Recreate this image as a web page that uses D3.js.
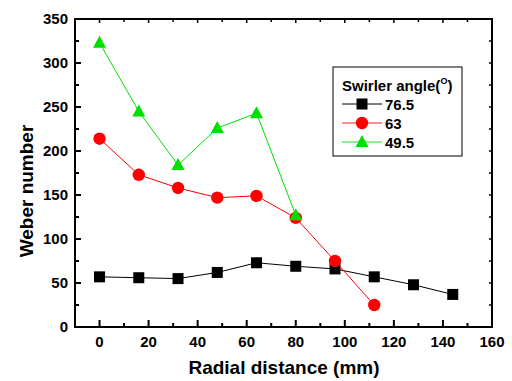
<!DOCTYPE html>
<html><head><meta charset="utf-8">
<script src="https://cdn.jsdelivr.net/npm/d3@7"></script>
<style>body{margin:0;background:#fff}svg{display:block}text{font-family:Arial,"Liberation Sans",sans-serif;font-weight:bold}</style>
</head><body>
<svg id="c" width="512" height="381"></svg>
<script>
const xPositions = [0,16,32,48,64,80,96,112,128,144];
const seriesNames = ["76.5","63","49.5"];
const we765 = [57,56,55,62,73,69,66,57,48,37];
const we63 = [214,173,158,147,149,124,75,25];
const we495 = [323,245,184,226,243,127];
const xTicks = [0,20,40,60,80,100,120,140,160];
const yTicks = [0,50,100,150,200,250,300,350];
const colors = ["#000000","#ff0000","#00e000"];
const shapes = ["square","circle","triangle"];

const svg = d3.select("#c");
const L=75,R=492,T=19,B=327;
const x = d3.scaleLinear().domain([-10,160]).range([L,R]);
const y = d3.scaleLinear().domain([0,350]).range([B,T]);

const g = svg.append("g");
g.append("rect").attr("x",L).attr("y",T).attr("width",R-L).attr("height",B-T).attr("fill","none").attr("stroke","#000").attr("stroke-width",2);

const xMinor = d3.range(-10,161,10).filter(v=>v%20!==0);
const yMinor = d3.range(25,350,50);
xTicks.forEach(v=>{
  g.append("line").attr("x1",x(v)).attr("x2",x(v)).attr("y1",B).attr("y2",B-7).attr("stroke","#000").attr("stroke-width",2);
  g.append("line").attr("x1",x(v)).attr("x2",x(v)).attr("y1",T).attr("y2",T+4).attr("stroke","#000").attr("stroke-width",1.5);
  g.append("text").attr("x",x(v)).attr("y",347).attr("text-anchor","middle").attr("font-size",15).text(v);
});
xMinor.forEach(v=>{
  g.append("line").attr("x1",x(v)).attr("x2",x(v)).attr("y1",B).attr("y2",B-4).attr("stroke","#000").attr("stroke-width",2);
  g.append("line").attr("x1",x(v)).attr("x2",x(v)).attr("y1",T).attr("y2",T+3).attr("stroke","#000").attr("stroke-width",1.5);
});
yTicks.forEach(v=>{
  g.append("line").attr("x1",L).attr("x2",L+6).attr("y1",y(v)).attr("y2",y(v)).attr("stroke","#000").attr("stroke-width",2);
  g.append("line").attr("x1",R).attr("x2",R-3).attr("y1",y(v)).attr("y2",y(v)).attr("stroke","#000").attr("stroke-width",1.5);
  g.append("text").attr("x",L-7).attr("y",y(v)+5.4).attr("text-anchor","end").attr("font-size",15).text(v);
});
yMinor.forEach(v=>{
  g.append("line").attr("x1",L).attr("x2",L+4).attr("y1",y(v)).attr("y2",y(v)).attr("stroke","#000").attr("stroke-width",2);
  g.append("line").attr("x1",R).attr("x2",R-3).attr("y1",y(v)).attr("y2",y(v)).attr("stroke","#000").attr("stroke-width",1.5);
});

svg.append("text").attr("x",284).attr("y",374).attr("text-anchor","middle").attr("font-size",19).text("Radial distance (mm)");
svg.append("text").attr("transform",`translate(33,191) rotate(-90)`).attr("text-anchor","middle").attr("font-size",19).text("Weber number");

function marker(sel, shape, color){
  if(shape==="square") sel.append("rect").attr("x",-5.5).attr("y",-5.5).attr("width",11).attr("height",11).attr("fill",color);
  else if(shape==="circle") sel.append("circle").attr("r",6.2).attr("fill",color);
  else sel.append("path").attr("d","M0,-7L6.5,5L-6.5,5Z").attr("fill",color);
}

const allSeries = [we765, we63, we495];
const line = d3.line().x(d=>x(d[0])).y(d=>y(d[1]));
[0,1,2].forEach(i=>{
  const pts = allSeries[i].map((v,j)=>[xPositions[j],v]);
  const sg = g.append("g");
  sg.append("path").attr("d",line(pts)).attr("fill","none").attr("stroke",colors[i]).attr("stroke-width",1);
  pts.forEach(p=>{
    const m = sg.append("g").attr("transform",`translate(${x(p[0])},${y(p[1])})`);
    marker(m, shapes[i], colors[i]);
  });
});

const lg = svg.append("g").attr("transform","translate(333,67)");
lg.append("rect").attr("width",129).attr("height",89).attr("fill","#fff").attr("stroke","#000").attr("stroke-width",1);
const title = lg.append("text").attr("x",9).attr("y",24).attr("font-size",15);
title.append("tspan").text("Swirler angle(");
title.append("tspan").attr("font-size",9).attr("dy",-7).text("O");
title.append("tspan").attr("dy",7).text(")");
seriesNames.forEach((n,i)=>{
  const yy = 37 + i*19;
  lg.append("line").attr("x1",9).attr("x2",49).attr("y1",yy).attr("y2",yy).attr("stroke",colors[i]).attr("stroke-width",i===0?1:1.5).attr("stroke-opacity",i===0?1:0.6);
  const m = lg.append("g").attr("transform",`translate(29,${yy})`);
  marker(m, shapes[i], colors[i]);
  lg.append("text").attr("x",52).attr("y",yy+5.5).attr("font-size",15).text(n);
});
</script>
</body></html>
